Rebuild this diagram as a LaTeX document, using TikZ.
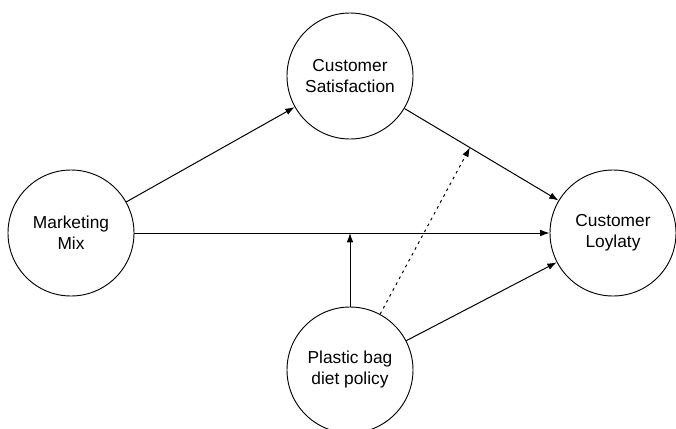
\documentclass[tikz,border=0pt]{standalone}
\usepackage{fontspec}
\setmainfont{Liberation Sans}
\usetikzlibrary{calc,arrows.meta}
\begin{document}
\begin{tikzpicture}[x=0.75pt,y=-0.75pt,
    factor/.style={draw,circle,minimum size=94.5pt,inner sep=0pt,align=center,
      line width=0.7pt,font=\fontsize{13}{15.75}\selectfont},
    link/.style={-{Latex[length=7pt,width=5pt]},line width=0.75pt}]
    \useasboundingbox (0,0) rectangle (676,429);
    \node[factor] (cs) at (350,76) {Customer\\Satisfaction};
    \node[factor] (mm) at (71,233) {Marketing\\Mix};
    \node[factor] (cl) at (613,233) {Customer\\Loylaty};
    \node[factor] (pb) at (350,370) {Plastic bag\\diet policy};
    % direct paths
    \draw[link] (mm) -- (cs);
    \draw[link] (cs) -- (cl);
    \draw[link] (mm) -- (cl);
    \draw[link] (pb) -- (cl);
    % moderating paths
    \coordinate (mod) at ($(cs)!0.456!(cl)$);
    \coordinate (mid) at ($(mm)!(pb)!(cl)$);
    \draw[link] (pb) -- (mid);
    \draw[link,dash pattern=on 2pt off 3pt] (pb) -- (mod);
\end{tikzpicture}
\end{document}
